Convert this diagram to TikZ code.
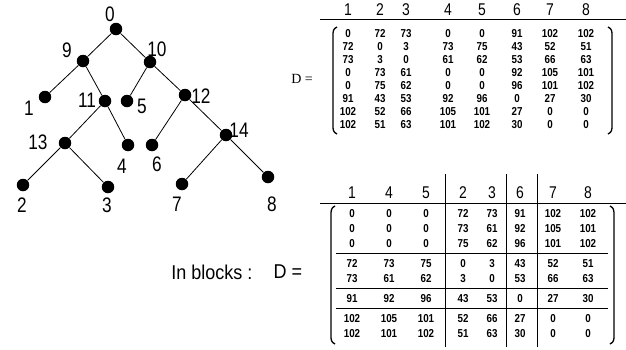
\documentclass[tikz,border=0pt]{standalone}
\usepackage{fontspec}
\setmainfont{Liberation Sans}
\newfontfamily\narrowf[FakeStretch=0.82]{Liberation Sans}
\newfontfamily\entf[FakeStretch=0.85]{Liberation Sans}
\newfontfamily\midf[FakeStretch=0.9]{Liberation Sans}
\newfontfamily\serf{Liberation Serif}
\begin{document}
\begin{tikzpicture}[x=1pt,y=-1pt,
  dot/.style={circle,fill=black,inner sep=0pt,minimum size=12.5pt},
  lbl/.style={font=\narrowf\fontsize{21}{21}\selectfont,inner sep=0pt,text height=15pt,text depth=0pt},
  edge/.style={line width=0.8pt},
  hdr/.style={font=\narrowf\fontsize{17}{17}\selectfont,inner sep=0pt,text height=12.2pt,text depth=0pt},
  ent/.style={font=\entf\bfseries\fontsize{11.5}{11.5}\selectfont,inner sep=0pt,text height=8.3pt,text depth=0pt},
  rule/.style={line width=1pt},
  paren/.style={line width=1.3pt},
  big/.style={font=\midf\fontsize{20}{20}\selectfont,inner sep=0pt},
  deq/.style={font=\serf\fontsize{14}{14}\selectfont,inner sep=0pt}]
\useasboundingbox (0,0) rectangle (626,349);
% ---------------- tree ----------------
\foreach \n/\x/\y in {0/116/29,9/83/61,10/150/62,1/45/97,11/105/101,5/127/101,
  12/185/95,13/65/143,4/128/145,6/152/145,14/226/135,2/23/185,3/108/187,7/182/184,8/268/177}
  \node[dot] (n\n) at (\x,\y) {};
\foreach \a/\b in {0/9,0/10,9/1,9/11,10/5,10/12,11/13,11/4,12/6,12/14,13/2,13/3,14/7,14/8}
  \draw[edge] (n\a) -- (n\b);
\foreach \n/\x/\y in {0/110/14,9/67/50,10/157/49,1/29/108,11/87/100,5/142/106,
  12/201/96,13/38/142,4/122/166,6/157/164,14/239/130,2/22/205,3/107/205,7/177/204,8/272/204}
  \node[lbl] (l\n) at (\x,\y) {\n};
% ---------------- top matrix ----------------
\node[deq] (dtop) at (302,79) {D =};
\foreach \h [count=\c] in {1,2,3,4,5,6,7,8}{
  \pgfmathsetmacro\xx{{348,380,406,448,482,517,550,586}[\c-1]}
  \node[hdr] (th\c) at (\xx,9) {\h};
}
\draw[rule] (320,19) -- (626,19);
\foreach \row [count=\r] in {{0,72,73,0,0,91,102,102},{72,0,3,73,75,43,52,51},
  {73,3,0,61,62,53,66,63},{0,73,61,0,0,92,105,101},{0,75,62,0,0,96,101,102},
  {91,43,53,92,96,0,27,30},{102,52,66,105,101,27,0,0},{102,51,63,101,102,30,0,0}}{
  \foreach \v [count=\c] in \row {
    \pgfmathsetmacro\xx{{348,380,406,448,482,517,550,586}[\c-1]}
    \pgfmathsetmacro\yy{33+13*(\r-1)}
    \node[ent] (t-\r-\c) at (\xx,\yy) {\v};
  }
}
\draw[paren] (337,27) .. controls (333,29) and (333,31) .. (333,36) -- (333,125)
  .. controls (333,130) and (333,132) .. (337,134);
\draw[paren] (608,27) .. controls (612,29) and (612,31) .. (612,36) -- (612,125)
  .. controls (612,130) and (612,132) .. (608,134);
% ---------------- bottom matrix ----------------
\node[big] (inb) at (212,272) {In blocks :};
\node[big] (dbot) at (288,272) {D =};
\foreach \h [count=\c] in {1,4,5,2,3,6,7,8}{
  \pgfmathsetmacro\xx{{352,389,426,463,492,520,553,588}[\c-1]}
  \node[hdr] (bh\c) at (\xx,192) {\h};
}
\draw[rule] (320,203) -- (626,203);
\foreach \vx in {445,506,537}
  \draw[rule] (\vx,174) -- (\vx,347);
\foreach \hy in {253,288,308}
  \draw[rule] (336,\hy) -- (608,\hy);
\foreach \row [count=\r] in {{0,0,0,72,73,91,102,102},{0,0,0,73,61,92,105,101},
  {0,0,0,75,62,96,101,102},{72,73,75,0,3,43,52,51},{73,61,62,3,0,53,66,63},
  {91,92,96,43,53,0,27,30},{102,105,101,52,66,27,0,0},{102,101,102,51,63,30,0,0}}{
  \foreach \v [count=\c] in \row {
    \pgfmathsetmacro\xx{{352,389,426,463,492,520,553,588}[\c-1]}
    \pgfmathsetmacro\yy{{213,228,243,263,278,298,318,333}[\r-1]}
    \node[ent] (b-\r-\c) at (\xx,\yy) {\v};
  }
}
\draw[paren] (335,206) .. controls (331,208) and (331,210) .. (331,216) -- (331,335)
  .. controls (331,340) and (331,342) .. (335,344);
\draw[paren] (610,206) .. controls (614,208) and (614,210) .. (614,216) -- (614,335)
  .. controls (614,340) and (614,342) .. (610,344);
\end{tikzpicture}
\end{document}
